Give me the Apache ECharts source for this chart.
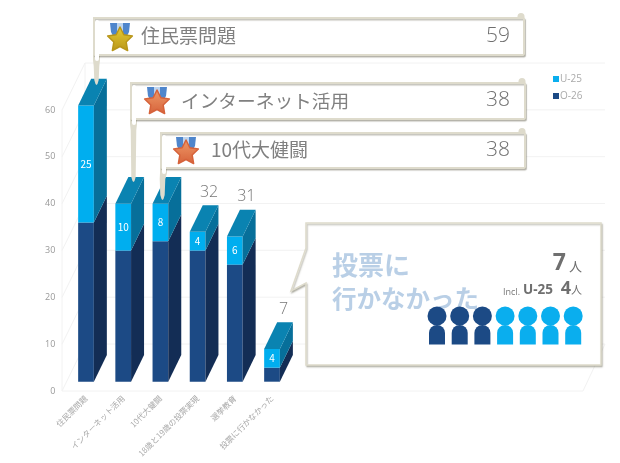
<!DOCTYPE html>
<html>
<head>
<meta charset="utf-8">
<style>html,body{margin:0;padding:0;background:#fff}#chart{width:620px;height:463px}</style>
<script src="https://cdn.jsdelivr.net/npm/echarts@6/dist/echarts.min.js"></script>
</head>
<body>
<div id="chart"></div>
<script>
var categories=["住民票問題","インターネット活用","10代大健闘","18歳と19歳の投票実現","選挙教育","投票に行かなかった"]
var o26=[34,28,30,28,25,3]
var u25=[25,10,8,4,6,4]
var totals=[59,38,38,32,31,7]
var yTicks=[0,10,20,30,40,50,60]
var calloutNames=["住民票問題","インターネット活用","10代大健闘"]
var calloutValues=[59,38,38]
var peopleO26=3
var peopleU25=4

var font='"Noto Sans CJK JP","Noto Sans",sans-serif'
var numFont='"Open Sans","Noto Sans",sans-serif'
var BASE=9.3 //bars stand on the floor, above the front edge
var FW=15.7,DX=13,DY=26.7 //bar front width and depth
var WX=23,WY=47 //wall depth

function poly(points,fill){
	return {type:'polygon',shape:{points:points},style:{fill:fill},silent:true}
}
function barItem(colors,showValue){
	return function(params,api){
		var i=api.value(0)
		var p0=api.coord([i,api.value(1)])
		var p1=api.coord([i,api.value(2)])
		var l=p0[0]-FW/2,r=p0[0]+FW/2
		var b=p0[1]-BASE,t=p1[1]-BASE
		var children=[
			poly([[l,b],[r,b],[r,t],[l,t]],colors.front),
			poly([[r,b],[r+DX,b-DY],[r+DX,t-DY],[r,t]],colors.side)
		]
		if(colors.top){
			children.push(poly([[l,t],[r,t],[r+DX,t-DY],[l+DX,t-DY]],colors.top))
		}
		if(showValue){
			children.push({type:'text',silent:true,style:{text:String(api.value(2)-api.value(1)),x:p0[0],y:(b+t)/2,fill:'#fff',font:'10px '+font,align:'center',verticalAlign:'middle'}})
			//totals not shown in a callout sit above the bar
			if(i>=calloutValues.length){
				children.push({type:'text',silent:true,style:{text:String(totals[i]),x:p0[0]+11.5,y:t-DY-13,fill:'#777',font:'300 16px '+numFont,align:'center',verticalAlign:'middle'}})
			}
		}
		return {type:'group',children:children}
	}
}
function wallItem(params,api){
	var y=api.coord([0,api.value(0)])[1]
	var line={stroke:'#f2f2f2',lineWidth:1}
	var children=[
		{type:'line',shape:{x1:62,y1:y,x2:62+WX,y2:y-WY},style:line,silent:true},
		{type:'line',shape:{x1:62+WX,y1:y-WY,x2:605,y2:y-WY},style:line,silent:true}
	]
	if(api.value(0)==0){
		var top=api.coord([0,60])[1]
		children.push({type:'line',shape:{x1:62,y1:y,x2:583,y2:y},style:line,silent:true})
		children.push({type:'line',shape:{x1:583,y1:y,x2:605,y2:y-WY},style:line,silent:true})
		children.push({type:'line',shape:{x1:62,y1:y,x2:62,y2:top},style:line,silent:true})
		children.push({type:'line',shape:{x1:62+WX,y1:y-WY,x2:62+WX,y2:top-WY},style:line,silent:true})
	}
	return {type:'group',children:children}
}

//callouts and decoration
var boxes=[
	{x:93,y:17,w:432,h:38,pinX:96.5,pinY:85,medal:[120,23,40],star:['#e9cd32','#b8961a'],text:141,num:510,size:19},
	{x:130,y:82,w:396,h:37,pinX:133.5,pinY:182,medal:[157,87,103],star:['#ef9a68','#d6623a'],text:181,num:510,size:18.7},
	{x:160,y:132,w:366,h:36,pinX:162.5,pinY:200,medal:[186,137,153],star:['#ef9a68','#d6623a'],text:211,num:510,size:19}
]
var edge='#dedbcc'
function starPoints(cx,cy,r){
	var pts=[]
	for(var k=0;k<10;k++){
		var a=-Math.PI/2+k*Math.PI/5
		var rr=k%2==0?r:r*0.5
		pts.push([cx+rr*Math.cos(a),cy+rr*Math.sin(a)])
	}
	return pts
}
var elements=[]
boxes.forEach(function(b,n){
	//pin
	var bot=b.y+b.h+5
	elements.push({type:'polygon',z:100,shape:{points:[[b.x,b.y],[b.x+7,b.y],[b.x+7,bot],[b.pinX+2.8,bot+6],[b.pinX+2.2,b.pinY-5],[b.pinX+1,b.pinY-1],[b.pinX,b.pinY],[b.pinX-1,b.pinY-1],[b.pinX-2.2,b.pinY-5],[b.pinX-2.8,bot+6],[b.x,bot]]},style:{fill:edge}})
	//knob at the top right
	elements.push({type:'circle',z:100,shape:{cx:b.x+b.w-4,cy:b.y-0.5,r:3.5},style:{fill:edge}})
	//box
	elements.push({type:'rect',z:101,shape:{x:b.x+1,y:b.y+1,width:b.w-2,height:b.h-1,r:1},style:{fill:'#fff',stroke:edge,lineWidth:2,shadowColor:'rgba(120,118,100,0.45)',shadowBlur:1,shadowOffsetX:1,shadowOffsetY:1.5}})
	elements.push({type:'rect',z:102,shape:{x:b.x+2,y:b.y+3,width:4,height:b.h+3,r:2},style:{fill:'#fff'}})
	//medal
	var m=b.medal
	elements.push({type:'polygon',z:103,shape:{points:[[m[0]-10,m[1]],[m[0]+10,m[1]],[m[0]+9,m[1]+9],[m[0]+5,m[2]],[m[0]-5,m[2]],[m[0]-9,m[1]+9]]},style:{fill:'#4f86cc'}})
	elements.push({type:'rect',z:103,shape:{x:m[0]-3,y:m[1],width:6,height:m[2]-m[1]},style:{fill:'#bcd4ef'}})
	elements.push({type:'polygon',z:104,shape:{points:starPoints(m[0],m[2],13)},style:{
		fill:new echarts.graphic.LinearGradient(0,0,0,1,[{offset:0,color:b.star[0]},{offset:1,color:b.star[1]}]),
		stroke:b.star[1],lineWidth:1.5,lineJoin:'round'}})
	//texts
	elements.push({type:'text',z:104,style:{text:calloutNames[n],x:b.text,y:b.y+b.h/2,fill:'#808080',font:b.size+'px '+font,align:'left',verticalAlign:'middle'}})
	elements.push({type:'text',z:104,style:{text:String(calloutValues[n]),x:b.num,y:b.y+b.h/2,fill:'#6f6f6f',font:'300 21px '+numFont,align:'right',verticalAlign:'middle'}})
})

//speech bubble
elements.push({type:'polygon',z:90,shape:{points:[[306,223],[601,223],[601,365],[306,365],[306,283],[291,291],[306,248]]},style:{fill:'#fff',stroke:edge,lineWidth:1.5,shadowColor:'rgba(120,118,100,0.45)',shadowBlur:1.5,shadowOffsetX:1,shadowOffsetY:1.5}})
elements.push({type:'text',z:91,style:{text:'投票に',x:332,y:265,fill:'#b9cfe6',font:'bold 26px '+font,align:'left',verticalAlign:'middle'}})
elements.push({type:'text',z:91,style:{text:'行かなかった',x:332,y:299,fill:'#b9cfe6',font:'bold 24.5px '+font,align:'left',verticalAlign:'middle'}})
elements.push({type:'text',z:91,style:{text:'人',x:582,y:266,fill:'#6f6f6f',font:'13px '+font,align:'right',verticalAlign:'middle'}})
elements.push({type:'text',z:91,style:{text:String(peopleO26+peopleU25),x:566,y:263,fill:'#6f6f6f',font:'bold 23px '+numFont,align:'right',verticalAlign:'middle'}})
elements.push({type:'text',z:91,style:{text:'人',x:582,y:290,fill:'#6f6f6f',font:'11px '+font,align:'right',verticalAlign:'middle'}})
elements.push({type:'text',z:91,style:{text:String(peopleU25),x:571,y:289,fill:'#6f6f6f',font:'bold 18px '+numFont,align:'right',verticalAlign:'middle'}})
elements.push({type:'text',z:91,style:{text:'U-25',x:553,y:290,fill:'#6f6f6f',font:'bold 13.5px '+numFont,align:'right',verticalAlign:'middle'}})
elements.push({type:'text',z:91,style:{text:'Incl.',x:520,y:292,fill:'#777',font:'9px '+numFont,align:'right',verticalAlign:'middle'}})
for(var k=0;k<peopleO26+peopleU25;k++){
	var cx=437+k*22.7
	var c=k<peopleO26?'#1c4a85':'#0aaeee'
	elements.push({type:'circle',z:92,shape:{cx:cx,cy:316,r:9.5},style:{fill:c}})
	elements.push({type:'rect',z:92,shape:{x:cx-8,y:325,width:16,height:19.5,r:[8,8,0,0]},style:{fill:c}})
}

var o26Data=[],u25Data=[]
for(var i=0;i<categories.length;i++){
	o26Data.push([i,0,o26[i]])
	u25Data.push([i,o26[i],o26[i]+u25[i]])
}

var mychart=echarts.init(document.getElementById('chart'))
var option={
	animation:false,
	backgroundColor:'#fff',
	textStyle:{fontFamily:font},
	grid:{left:67.4,right:329.4,top:110,bottom:72},
	legend:{
		orient:'vertical',
		left:548,
		top:69,
		itemWidth:6,
		itemHeight:6,
		itemGap:7,
		icon:'rect',
		textStyle:{color:'#aaa',fontSize:10,fontFamily:numFont,padding:[0,0,0,-4]},
		data:['U-25','O-26']
	},
	xAxis:{
		type:'category',
		data:categories,
		axisLine:{show:false},
		axisTick:{show:false},
		axisLabel:{interval:0,rotate:45,margin:6,fontSize:8,color:'#a8a8a8'}
	},
	yAxis:{
		type:'value',
		min:0,
		max:60,
		interval:10,
		axisLine:{show:false},
		axisTick:{show:false},
		splitLine:{show:false},
		axisLabel:{margin:12,fontSize:9,color:'#999',fontFamily:numFont}
	},
	series:[
		{type:'custom',name:'wall',z:1,clip:false,silent:true,data:yTicks.map(function(v){return [v]}),encode:{y:0},renderItem:wallItem},
		{type:'custom',name:'O-26',z:2,clip:false,silent:true,itemStyle:{color:'#1c4a85'},data:o26Data,encode:{x:0,y:[1,2]},
			renderItem:barItem({front:'#1c4a85',side:'#132d55'},false)},
		{type:'custom',name:'U-25',z:3,clip:false,silent:true,itemStyle:{color:'#0aaeee'},data:u25Data,encode:{x:0,y:[1,2]},
			renderItem:barItem({front:'#00aeef',side:'#076f9a',top:'#0a83b1'},true)}
	],
	graphic:{elements:elements}
}
mychart.setOption(option)
</script>
</body>
</html>
